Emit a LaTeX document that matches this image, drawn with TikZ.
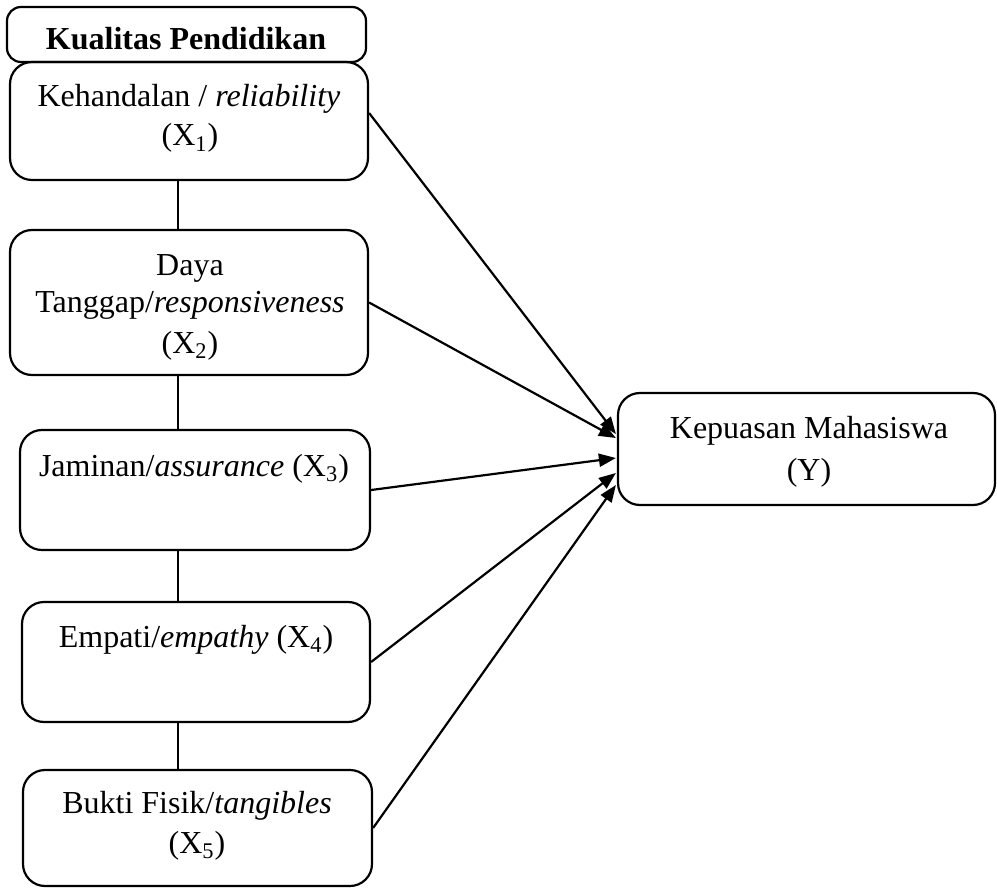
\documentclass[tikz,border=0pt]{standalone}
\usepackage{fontspec}
\setmainfont{Liberation Serif}
\usetikzlibrary{arrows.meta,calc}
\begin{document}
\begin{tikzpicture}[x=0.5pt,y=-0.5pt,
  box/.style={draw, line width=1.1pt, rounded corners=11pt, inner sep=0pt},
  txt/.style={anchor=base, inner sep=0pt, font=\fontsize{16pt}{20pt}\selectfont},
  link/.style={line width=1.1pt},
  arr/.style={line width=1.1pt, -{Triangle[length=8.5pt,width=6.5pt]}}]
\useasboundingbox (0,0) rectangle (997,888);
% boxes
\node[box, rounded corners=7pt, minimum width=179.5pt, minimum height=27.5pt] (t) at (186.5,34.5) {};
\node[box, minimum width=179pt, minimum height=59pt] (b1) at (189,121) {};
\node[box, minimum width=179pt, minimum height=72.5pt] (b2) at (189,302.5) {};
\node[box, minimum width=175pt, minimum height=60pt] (b3) at (195,490) {};
\node[box, minimum width=174pt, minimum height=60pt] (b4) at (196,662) {};
\node[box, minimum width=174.5pt, minimum height=58pt] (b5) at (197.5,828) {};
\node[box, minimum width=188.5pt, minimum height=56pt] (y) at (806.5,449) {};
% texts
\node[txt] (tt) at (186,50) {\textbf{Kualitas Pendidikan}};
\node[txt] (t1a) at (189,107) {Kehandalan / \textit{reliability}};
\node[txt] (t1b) at (190,146) {(X\textsubscript{1})};
\node[txt] (t2a) at (190,275) {Daya};
\node[txt] (t2b) at (190,313) {Tanggap/\textit{responsiveness}};
\node[txt] (t2c) at (190,353) {(X\textsubscript{2})};
\node[txt] (t3) at (194,476) {Jaminan/\textit{assurance} (X\textsubscript{3})};
\node[txt] (t4) at (196,647) {Empati/\textit{empathy} (X\textsubscript{4})};
\node[txt] (t5a) at (197,813) {Bukti Fisik/\textit{tangibles}};
\node[txt] (t5b) at (197,853) {(X\textsubscript{5})};
\node[txt] (ya) at (809,438) {Kepuasan Mahasiswa};
\node[txt] (yb) at (809,480) {(Y)};
% vertical links
\coordinate (vx) at (178,0);
\draw[link] (b1.south -| vx) -- (b2.north -| vx);
\draw[link] (b2.south -| vx) -- (b3.north -| vx);
\draw[link] (b3.south -| vx) -- (b4.north -| vx);
\draw[link] (b4.south -| vx) -- (b5.north -| vx);
% arrow tips on Y
\coordinate (e1) at ($(y.west)+(-1,-15)$);
\coordinate (e2) at ($(y.west)+(-1,-11)$);
\coordinate (e3) at ($(y.west)+(-1,9)$);
\coordinate (e4) at ($(y.west)+(-1,24)$);
\coordinate (e5) at ($(y.west)+(-1,36)$);
\draw[arr] ($(b1.east)+(0,-8)$) -- (e1);
\draw[arr] (b2.east) -- (e2);
\draw[arr] (b3.east) -- (e3);
\draw[arr] (b4.east) -- (e4);
\draw[arr] (b5.east) -- (e5);
\end{tikzpicture}
\end{document}
